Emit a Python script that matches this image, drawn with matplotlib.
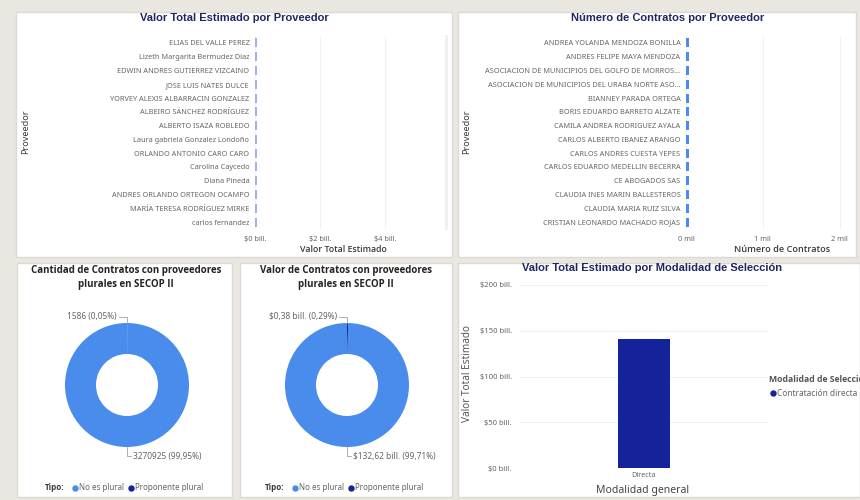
import matplotlib
matplotlib.use("Agg")
import matplotlib.pyplot as plt
from matplotlib.patches import Rectangle
from matplotlib.lines import Line2D

# ---------------- DATA ----------------
prov_valor = ["ELIAS DEL VALLE PEREZ", "Lizeth Margarita Bermudez Diaz",
              "EDWIN ANDRES GUTIERREZ VIZCAINO", "JOSE LUIS NATES DULCE",
              "YORVEY ALEXIS ALBARRACIN GONZALEZ", "ALBEIRO SÁNCHEZ RODRÍGUEZ",
              "ALBERTO ISAZA ROBLEDO", "Laura gabriela Gonzalez Londoño",
              "ORLANDO ANTONIO CARO CARO", "Carolina Caycedo", "Diana Pineda",
              "ANDRES ORLANDO ORTEGON OCAMPO", "MARÍA TERESA RODRÍGUEZ MIRKE",
              "carlos fernandez"]
valor_bill = [0.05, 0.05, 0.05, 0.05, 0.05, 0.05, 0.05, 0.05, 0.05, 0.05, 0.05,
              0.05, 0.05, 0.05]
valor_ticks = [0, 2, 4]
valor_ticklabels = ["$0 bill.", "$2 bill.", "$4 bill."]

prov_num = ["ANDREA YOLANDA MENDOZA BONILLA", "ANDRES FELIPE MAYA MENDOZA",
            "ASOCIACION DE MUNICIPIOS DEL GOLFO DE MORROS...",
            "ASOCIACION DE MUNICIPIOS DEL URABA NORTE ASO...",
            "BIANNEY PARADA ORTEGA", "BORIS EDUARDO BARRETO ALZATE",
            "CAMILA ANDREA RODRIGUEZ AYALA", "CARLOS ALBERTO IBANEZ ARANGO",
            "CARLOS ANDRES CUESTA YEPES", "CARLOS EDUARDO MEDELLIN BECERRA",
            "CE ABOGADOS SAS", "CLAUDIA INES MARIN BALLESTEROS",
            "CLAUDIA MARIA RUIZ SILVA", "CRISTIAN LEONARDO MACHADO ROJAS"]
num_mil = [0.035, 0.035, 0.035, 0.035, 0.035, 0.035, 0.035, 0.035, 0.035, 0.035,
           0.035, 0.035, 0.035, 0.035]
num_ticks = [0, 1, 2]
num_ticklabels = ["0 mil", "1 mil", "2 mil"]

tipos = ["No es plural", "Proponente plural"]
cant_contratos = [3270925, 1586]
cant_labels = ["3270925 (99,95%)", "1586 (0,05%)"]
valor_contratos = [132.62, 0.38]
valor_labels = ["$132,62 bill. (99,71%)", "$0,38 bill. (0,29%)"]

modalidad = ["Directa"]
modalidad_valor = [141]
mod_ticks = [0, 50, 100, 150, 200]
mod_ticklabels = ["$0 bill.", "$50 bill.", "$100 bill.", "$150 bill.", "$200 bill."]
mod_legend = "Contratación directa"

# ---------------- STYLE ----------------
W, H = 860, 500
BG = "#E9E7E0"
NAVY_T = "#1E2761"
C_LIGHT = "#4A8CEC"
C_DARK = "#14239A"
TXT = "#666666"
TXT_D = "#3A3A3A"
BODY = ["Noto Sans", "DejaVu Sans"]
BOLD = ["Open Sans", "DejaVu Sans"]
TITLE = ["Liberation Sans", "DejaVu Sans"]

fig = plt.figure(figsize=(W / 100, H / 100), dpi=100)
fig.patch.set_facecolor(BG)


def fx(x):
    return x / W


def fy(y):
    return 1 - y / H


def rect(x0, y0, x1, y1):
    return [fx(x0), fy(y1), (x1 - x0) / W, (y1 - y0) / H]


def panel(x0, y0, x1, y1):
    fig.add_artist(Rectangle((fx(x0), fy(y1)), (x1 - x0) / W, (y1 - y0) / H,
                             transform=fig.transFigure, facecolor="white",
                             edgecolor="#DCDAD3", linewidth=1.0, zorder=0))


def txt(x, y, s, **kw):
    kw.setdefault("family", BODY)
    kw.setdefault("va", "center")
    return fig.text(fx(x), fy(y), s, **kw)


def dot(x, y, color):
    fig.add_artist(Line2D([fx(x)], [fy(y)], transform=fig.transFigure, marker="o",
                          markersize=4.6, color=color, markeredgewidth=0,
                          linestyle="none"))


panel(16, 12, 452, 257)
panel(458, 12, 856, 257)
panel(17, 263, 232, 497)
panel(240, 263, 452, 497)
panel(458, 263, 860, 497)


def style_hbar(ax):
    for s in ax.spines.values():
        s.set_visible(False)
    ax.tick_params(axis="both", length=0, colors=TXT)
    ax.set_facecolor("none")
    ax.xaxis.grid(True, color="#F2F2F2", linewidth=0.8)
    ax.set_axisbelow(True)


# ---------- top-left ----------
ax1 = fig.add_axes(rect(255, 36, 445, 229))
ax1.barh(range(len(prov_valor)), valor_bill, height=0.65, color="#9FB2EE")
ax1.set_xlim(0, 5.85)
ax1.set_ylim(len(prov_valor) - 0.5, -0.5)
ax1.set_yticks(range(len(prov_valor)))
ax1.set_yticklabels(prov_valor, fontsize=5.3, family=BODY, color=TXT)
ax1.set_xticks(valor_ticks)
ax1.set_xticklabels(valor_ticklabels, fontsize=5.3, family=BODY, color=TXT)
style_hbar(ax1)
ax1.tick_params(axis="y", pad=4)
ax1.tick_params(axis="x", pad=5)
txt(234, 18, "Valor Total Estimado por Proveedor", ha="center", fontsize=8,
    fontweight="bold", color=NAVY_T, family=TITLE)
txt(343, 249, "Valor Total Estimado", ha="center", fontsize=6.3, color=TXT_D,
    family=BOLD, fontweight="semibold")
txt(26, 132, "Proveedor", ha="center", fontsize=6.5, color=TXT_D, rotation=90)
fig.add_artist(Rectangle((fx(445), fy(230)), 3 / W, 195 / H, transform=fig.transFigure,
                         facecolor="#F0F0F0", edgecolor="none", zorder=1))

# ---------- top-right ----------
ax2 = fig.add_axes(rect(686, 36, 855, 229))
ax2.barh(range(len(prov_num)), num_mil, height=0.65, color=C_LIGHT)
ax2.set_xlim(0, 2.2)
ax2.set_ylim(len(prov_num) - 0.5, -0.5)
ax2.set_yticks(range(len(prov_num)))
ax2.set_yticklabels(prov_num, fontsize=5.3, family=BODY, color=TXT)
ax2.set_xticks(num_ticks)
ax2.set_xticklabels(num_ticklabels, fontsize=5.3, family=BODY, color=TXT)
style_hbar(ax2)
ax2.tick_params(axis="y", pad=4)
ax2.tick_params(axis="x", pad=5)
txt(668, 18, "Número de Contratos por Proveedor", ha="center", fontsize=8,
    fontweight="bold", color=NAVY_T, family=TITLE)
txt(782, 249, "Número de Contratos", ha="center", fontsize=6.6, color=TXT_D,
    family=BOLD, fontweight="semibold")
txt(467, 132, "Proveedor", ha="center", fontsize=6.5, color=TXT_D, rotation=90)


# ---------- donuts ----------
def donut(cx, cy, vals, labels, title, legx):
    r = 62
    ax = fig.add_axes(rect(cx - r, cy - r, cx + r, cy + r))
    ax.pie(vals[::-1], colors=[C_DARK, C_LIGHT], startangle=90, counterclock=False,
           radius=1.0, wedgeprops=dict(width=0.5, edgecolor="none"))
    ax.set_xlim(-1, 1)
    ax.set_ylim(-1, 1)
    ax.set_aspect("equal")
    ax.axis("off")
    fig.add_artist(Line2D([fx(cx - 8), fx(cx), fx(cx)], [fy(317), fy(317), fy(cy - r)],
                          transform=fig.transFigure, color="#A0A0A0", lw=0.6))
    fig.add_artist(Line2D([fx(cx), fx(cx), fx(cx + 4)], [fy(cy + r), fy(456), fy(456)],
                          transform=fig.transFigure, color="#A0A0A0", lw=0.6))
    txt(cx - 10, 317, labels[1], ha="right", fontsize=6.0, color=TXT)
    txt(cx + 6, 456, labels[0], ha="left", fontsize=6.0, color=TXT)
    t1, t2 = title
    txt(cx - 1, 270, t1, ha="center", fontsize=7, fontweight="bold", color="#252423",
        family=BOLD)
    txt(cx - 1, 285, t2, ha="center", fontsize=7, fontweight="bold", color="#252423",
        family=BOLD)
    txt(legx, 488, "Tipo:", ha="left", fontsize=5.8, fontweight="bold", color=TXT_D,
        family=BOLD)
    dot(legx + 30, 488, C_LIGHT)
    txt(legx + 34, 488, tipos[0], ha="left", fontsize=5.8, color=TXT)
    dot(legx + 86, 488, C_DARK)
    txt(legx + 90, 488, tipos[1], ha="left", fontsize=5.8, color=TXT)


donut(127, 385, cant_contratos, cant_labels,
      ("Cantidad de Contratos con proveedores", "plurales en SECOP II"), 45)
donut(347, 385, valor_contratos, valor_labels,
      ("Valor de Contratos con proveedores", "plurales en SECOP II"), 265)

# ---------- bottom-right ----------
ax3 = fig.add_axes(rect(520, 285, 768, 468))
ax3.bar(modalidad, modalidad_valor, width=0.21, color=C_DARK)
ax3.set_xlim(-0.5, 0.5)
ax3.set_ylim(0, 200)
ax3.set_yticks(mod_ticks)
ax3.set_yticklabels(mod_ticklabels, fontsize=5.5, family=BODY, color=TXT)
ax3.set_xticks([0])
ax3.set_xticklabels(modalidad, fontsize=5.2, family=BODY, color=TXT)
for s in ax3.spines.values():
    s.set_visible(False)
ax3.tick_params(axis="both", length=0, colors=TXT)
ax3.tick_params(axis="y", pad=6)
ax3.tick_params(axis="x", pad=3)
ax3.yaxis.grid(True, color="#F2F2F2", linewidth=0.8)
ax3.set_axisbelow(True)
ax3.set_facecolor("none")
txt(652, 268, "Valor Total Estimado por Modalidad de Selección", ha="center",
    fontsize=8, fontweight="bold", color=NAVY_T, family=TITLE)
txt(467, 374, "Valor Total Estimado", ha="center", fontsize=7.2, color="#555555",
    rotation=90)
txt(643, 490, "Modalidad general", ha="center", fontsize=7.5, color="#444444")
txt(769, 380, "Modalidad de Selección", ha="left", fontsize=6.2, fontweight="bold",
    color="#555555", family=BOLD)
dot(773, 393, C_DARK)
txt(777, 393, mod_legend, ha="left", fontsize=6, color=TXT)

fig.savefig("out.png", dpi=100, facecolor=BG)
